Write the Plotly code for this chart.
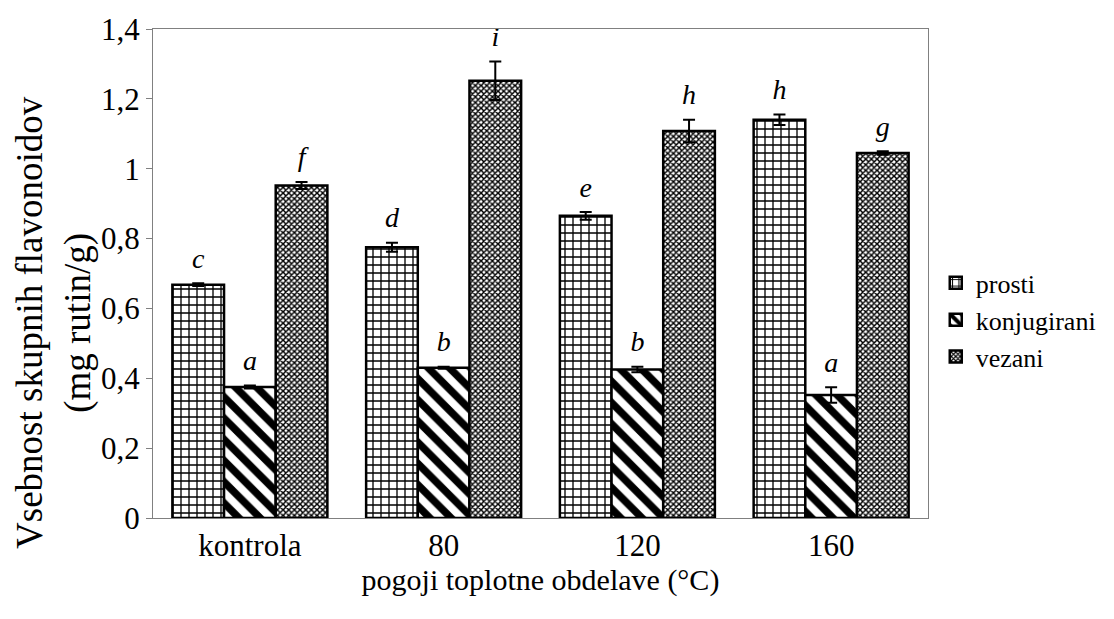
import plotly.graph_objects as go

categories = ["kontrola", "80", "120", "160"]
series_names = ["prosti", "konjugirani", "vezani"]
prosti = [0.668, 0.775, 0.865, 1.140]
konjugirani = [0.375, 0.430, 0.425, 0.352]
vezani = [0.952, 1.252, 1.108, 1.045]
prosti_err = [0.004, 0.013, 0.011, 0.015]
konjugirani_err = [0.004, 0.003, 0.008, 0.022]
vezani_err = [0.010, 0.055, 0.032, 0.005]
prosti_letters = ["c", "d", "e", "h"]
konjugirani_letters = ["a", "b", "b", "a"]
vezani_letters = ["f", "i", "h", "g"]
y_title = "Vsebnost skupnih flavonoidov<br>(mg rutin/g)"
x_title = "pogoji toplotne obdelave (°C)"

values = [prosti, konjugirani, vezani]
errors = [prosti_err, konjugirani_err, vezani_err]
letters = [prosti_letters, konjugirani_letters, vezani_letters]
patterns = [
    dict(shape="+", fgcolor="black", bgcolor="white", size=8, solidity=0.3, fgopacity=1),
    dict(shape="\\", fgcolor="black", bgcolor="white", size=15, solidity=0.5, fgopacity=1),
    dict(shape="x", fgcolor="black", bgcolor="white", size=4, solidity=0.6, fgopacity=1),
]

FONT = "Liberation Serif"
fig = go.Figure()
for i, name in enumerate(series_names):
    fig.add_trace(go.Bar(
        name=name, x=categories, y=values[i],
        marker=dict(color="white", pattern=patterns[i],
                    line=dict(color="black", width=2.5)),
        error_y=dict(type="data", array=errors[i], color="black",
                     thickness=2, width=6),
        offsetgroup=str(i),
    ))

for i, name in enumerate(series_names):
    tops = [v + e for v, e in zip(values[i], errors[i])]
    fig.add_trace(go.Scatter(
        x=categories, y=tops, mode="markers+text", text=letters[i],
        marker=dict(size=12, color="rgba(0,0,0,0)"),
        textposition="top center", showlegend=False, hoverinfo="skip",
        textfont=dict(family=FONT, size=28, color="black", style="italic"),
        offsetgroup=str(i), cliponaxis=False,
    ))

fig.add_annotation(
    text=y_title, textangle=-90, xref="paper", yref="paper",
    x=-0.127, y=0.40, xanchor="center", yanchor="middle", showarrow=False,
    font=dict(family=FONT, size=37, color="black"),
)

fig.update_layout(
    width=1114, height=619,
    margin=dict(l=153, r=186, t=22, b=101),
    plot_bgcolor="white", paper_bgcolor="white",
    barmode="group", bargap=0.2, bargroupgap=0,
    scattermode="group", scattergap=0.2,
    font=dict(family=FONT, size=30, color="black"),
    showlegend=True,
    legend=dict(x=1.01, y=0.405, xanchor="left", yanchor="middle",
                font=dict(family=FONT, size=26), itemwidth=30,
                tracegroupgap=0),
    xaxis=dict(
        title=dict(text=x_title, standoff=6,
                   font=dict(family=FONT, size=30)),
        showline=True, linecolor="#808080", linewidth=1, mirror=True,
        ticks="", tickfont=dict(family=FONT, size=31),
    ),
    yaxis=dict(
        range=[0, 1.4], tickvals=[0, 0.2, 0.4, 0.6, 0.8, 1.0, 1.2, 1.4],
        ticktext=["0", "0,2", "0,4", "0,6", "0,8", "1", "1,2", "1,4"],
        showgrid=False, zeroline=False,
        showline=True, linecolor="#808080", linewidth=1, mirror=True,
        ticks="outside", ticklen=6, tickcolor="#808080",
        tickfont=dict(family=FONT, size=31),
    ),
)

fig.write_html("out.html", config={"displayModeBar": False},
               post_script="document.body.style.margin='0px';")
